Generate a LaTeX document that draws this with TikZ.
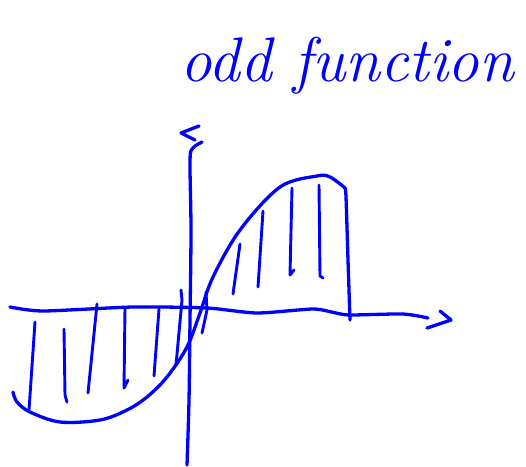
\documentclass[tikz,border=0pt]{standalone}
\usepackage{tikz}
\begin{document}
\begin{tikzpicture}[x=1pt,y=-1pt,
  ink/.style={draw={rgb,255:red,0;green,0;blue,255},line width=3.3pt,line cap=round,line join=round},
  hatch/.style={ink,line width=2.9pt}]
\useasboundingbox (0,0) rectangle (526,466);
% title
\node[anchor=base west,text={rgb,255:red,0;green,0;blue,255},inner sep=0pt,font=\fontsize{63}{63}\selectfont\itshape] (title) at (180,81) {odd function};
% y axis
\draw[ink] plot[smooth,tension=0.5] coordinates {(187,465) (189,400) (190,320) (191,230) (190,160) (193,148) (202,142)};
\draw[ink] (199,126) -- (181,133) -- (195,140);
% x axis
\draw[ink] plot[smooth,tension=0.4] coordinates {(10,307) (43,311) (133,307) (207,308) (257,313) (313,309) (336,313) (350,315) (403,314) (428,318)};
\draw[ink] (440,311) -- (451,320) -- (427,328);
% curve
\draw[ink] plot[smooth,tension=0.55] coordinates {(13,392) (17,402) (30,412) (60,422) (100,420) (127,410) (147,397) (167,377) (187,347) (200,313) (213,277) (240,230) (280,187) (317,176) (330,177) (345,188)};
\draw[ink] plot[smooth,tension=0.5] coordinates {(345,188) (346,197) (348,260) (350,320)};
% hatch lines negative side
\draw[hatch] (35,322) -- (29,410);
\draw[hatch] (64,329) -- (65,395) -- (67,402);
\draw[hatch] (97,304) -- (88,393);
\draw[hatch] (125,308) -- (124,388) -- (128,380);
\draw[hatch] (159,309) -- (154,376);
\draw[hatch] (181,290) -- (182,300) -- (176,365);
\draw[hatch] (206,292) -- (207,310) -- (202,333);
% hatch lines positive side
\draw[hatch] (240,244) -- (233,294);
\draw[hatch] (263,211) -- (258,287);
\draw[hatch] (292,188) -- (290,275) -- (294,270);
\draw[hatch] (319,185) -- (320,276) -- (323,278);
\end{tikzpicture}
\end{document}
